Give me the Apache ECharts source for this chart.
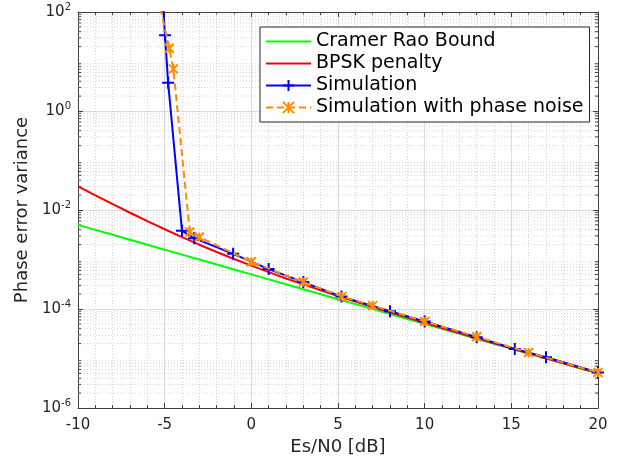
<!DOCTYPE html>
<html><head><meta charset="utf-8">
<script src="https://cdn.jsdelivr.net/npm/echarts@6/dist/echarts.min.js"></script>
<style>html,body{margin:0;padding:0;background:#fff}#c{width:621px;height:462px}</style>
</head><body><div id="c"></div><script>
// ---- data ----
const snrGrid = [-10,-9,-8,-7,-6,-5,-4,-3,-2,-1,0,1,2,3,4,5,6,7,8,9,10,11,12,13,14,15,16,17,18,19,20];
const crbValues = [5.0e-3,3.97e-3,3.15e-3,2.51e-3,1.99e-3,1.58e-3,1.256e-3,9.98e-4,7.92e-4,6.29e-4,5.0e-4,3.97e-4,3.15e-4,2.51e-4,1.99e-4,1.58e-4,1.256e-4,9.98e-5,7.92e-5,6.29e-5,5.0e-5,3.97e-5,3.15e-5,2.51e-5,1.99e-5,1.58e-5,1.256e-5,9.98e-6,7.92e-6,6.29e-6,5.0e-6];
const bpskValues = [3.0e-2,1.97e-2,1.31e-2,8.8e-3,5.95e-3,4.08e-3,2.83e-3,1.99e-3,1.42e-3,1.025e-3,7.5e-4,5.55e-4,4.14e-4,3.14e-4,2.39e-4,1.83e-4,1.414e-4,1.097e-4,8.55e-5,6.69e-5,5.25e-5,4.13e-5,3.25e-5,2.57e-5,2.03e-5,1.61e-5,1.272e-5,1.008e-5,7.98e-6,6.33e-6,5.03e-6];
const simSnr = [-5.2,-4.98,-4.8,-4.0,-3.3,-1.05,1.0,3.0,5.2,8.0,10.0,13.0,15.2,17.0,20.0];
const simValues = [500,34,3.7,3.8e-3,2.7e-3,1.3e-3,6.4e-4,3.5e-4,1.78e-4,9.0e-5,5.6e-5,2.7e-5,1.55e-5,1.06e-5,5.2e-6];
const pnSnr = [-5.4,-4.73,-4.5,-3.55,-3.0,0.0,3.0,5.23,7.0,10.0,13.0,16.0,20.0];
const pnValues = [200,18.5,7.1,3.6e-3,2.85e-3,9.0e-4,3.5e-4,1.78e-4,1.17e-4,5.6e-5,2.75e-5,1.32e-5,5.2e-6];
const seriesNames = ['Cramer Rao Bound','BPSK penalty','Simulation','Simulation with phase noise'];
const xTitle = 'Es/N0 [dB]';
const yTitle = 'Phase error variance';

const zip = (a,b)=>a.map((v,i)=>[v,b[i]]);
const X_MIN=-10, X_MAX=20, Y_MIN=1e-6, Y_MAX=1e2;
// minor grid values for the log axis (2..9 per decade)
const minorVals=[];
for(let e=-6;e<2;e++){for(let m=2;m<10;m++){minorVals.push([X_MIN, m*Math.pow(10,e)]);}}

const axisColor='#404040';
const font='DejaVu Sans';
const chart=echarts.init(document.getElementById('c'),null,{renderer:'canvas'});
const plusPath='path://M5,0L5,10M0,5L10,5';
const starPath='path://M5,0L5,10M0,0L10,10M10,0L0,10';

chart.setOption({
  animation:false,
  backgroundColor:'#fff',
  textStyle:{fontFamily:font},
  grid:{left:78,right:23,top:12,bottom:54,containLabel:false},
  legend:{
    orient:'vertical',left:260,top:27,
    data:[
      {name:seriesNames[0],itemStyle:{opacity:0}},
      {name:seriesNames[1],itemStyle:{opacity:0}},
      {name:seriesNames[2]},
      {name:seriesNames[3]}
    ],
    backgroundColor:'#fff',borderColor:'#262626',borderWidth:1,borderRadius:0,
    padding:[5,6,5,5],itemGap:3,itemWidth:45,itemHeight:14,
    textStyle:{fontSize:19,color:'#000',fontFamily:font}
  },
  xAxis:[{
    type:'value',min:X_MIN,max:X_MAX,interval:5,
    name:xTitle,nameLocation:'middle',nameGap:26,
    nameTextStyle:{fontSize:18,color:'#262626'},
    axisLine:{show:true,onZero:false,lineStyle:{color:axisColor,width:1}},
    axisTick:{show:true,inside:true,length:5,lineStyle:{color:axisColor}},
    minorTick:{show:true,splitNumber:5,length:3,lineStyle:{color:axisColor}},
    axisLabel:{fontSize:15,color:'#262626',margin:10},
    splitLine:{show:true,lineStyle:{color:'#dcdcdc',width:1}},
    minorSplitLine:{show:true,lineStyle:{color:'#d4d4d4',width:1,type:[1,2]}}
  },{
    type:'value',min:X_MIN,max:X_MAX,interval:5,position:'top',
    axisLine:{show:true,onZero:false,lineStyle:{color:axisColor,width:1}},
    axisTick:{show:true,inside:true,length:5,lineStyle:{color:axisColor}},
    minorTick:{show:true,splitNumber:5,length:3,lineStyle:{color:axisColor}},
    axisLabel:{show:false},splitLine:{show:false}
  }],
  yAxis:[{
    type:'log',logBase:10,min:Y_MIN,max:Y_MAX,interval:2,
    name:yTitle,nameLocation:'middle',nameGap:44,
    nameTextStyle:{fontSize:18,color:'#262626'},
    axisLine:{show:true,onZero:false,lineStyle:{color:axisColor,width:1}},
    axisTick:{show:true,inside:true,length:5,lineStyle:{color:axisColor}},
    axisLabel:{
      margin:7,
      formatter:v=>'{b|10}{s|'+Math.round(Math.log10(v))+'}',
      rich:{b:{fontSize:15,color:'#262626',fontFamily:font},
            s:{fontSize:10,color:'#262626',fontFamily:font,verticalAlign:'bottom',padding:[0,0,10,0]}}
    },
    splitLine:{show:true,lineStyle:{color:'#dcdcdc',width:1}}
  },{
    type:'log',logBase:10,min:Y_MIN,max:Y_MAX,interval:2,position:'right',
    axisLine:{show:true,onZero:false,lineStyle:{color:axisColor,width:1}},
    axisTick:{show:true,inside:true,length:5,lineStyle:{color:axisColor}},
    axisLabel:{show:false},splitLine:{show:false}
  }],
  series:[
    {
      type:'custom',name:'minorGrid',silent:true,z:1,clip:false,
      data:minorVals,encode:{x:0,y:1},
      renderItem:(params,api)=>{
        const v=api.value(1);
        const p0=api.coord([X_MIN,v]), p1=api.coord([X_MAX,v]);
        const cs={stroke:axisColor,lineWidth:1};
        return {type:'group',children:[
          {type:'line',shape:{x1:p0[0],y1:p0[1],x2:p1[0],y2:p1[1]},style:{stroke:'#d4d4d4',lineWidth:1,lineDash:[1,2]}},
          {type:'line',shape:{x1:p0[0],y1:p0[1],x2:p0[0]+3,y2:p0[1]},style:cs},
          {type:'line',shape:{x1:p1[0],y1:p1[1],x2:p1[0]-3,y2:p1[1]},style:cs}
        ]};
      }
    },
    {type:'line',name:seriesNames[0],data:zip(snrGrid,crbValues),symbol:'none',z:3,
     lineStyle:{color:'#00ff00',width:2},itemStyle:{color:'#00ff00'}},
    {type:'line',name:seriesNames[1],data:zip(snrGrid,bpskValues),symbol:'none',z:3,
     lineStyle:{color:'#ff0000',width:2},itemStyle:{color:'#ff0000'}},
    {type:'line',name:seriesNames[2],data:zip(simSnr,simValues),symbol:plusPath,symbolSize:12,z:4,
     lineStyle:{color:'#0000ff',width:2},itemStyle:{color:'#0000ff',borderColor:'#0000ff',borderWidth:2}},
    {type:'line',name:seriesNames[3],data:zip(pnSnr,pnValues),symbol:starPath,symbolSize:9,z:5,
     lineStyle:{color:'#ff8c00',width:2,type:[7,4]},itemStyle:{color:'#ff8c00',borderColor:'#ff8c00',borderWidth:2}}
  ]
});
</script></body></html>
